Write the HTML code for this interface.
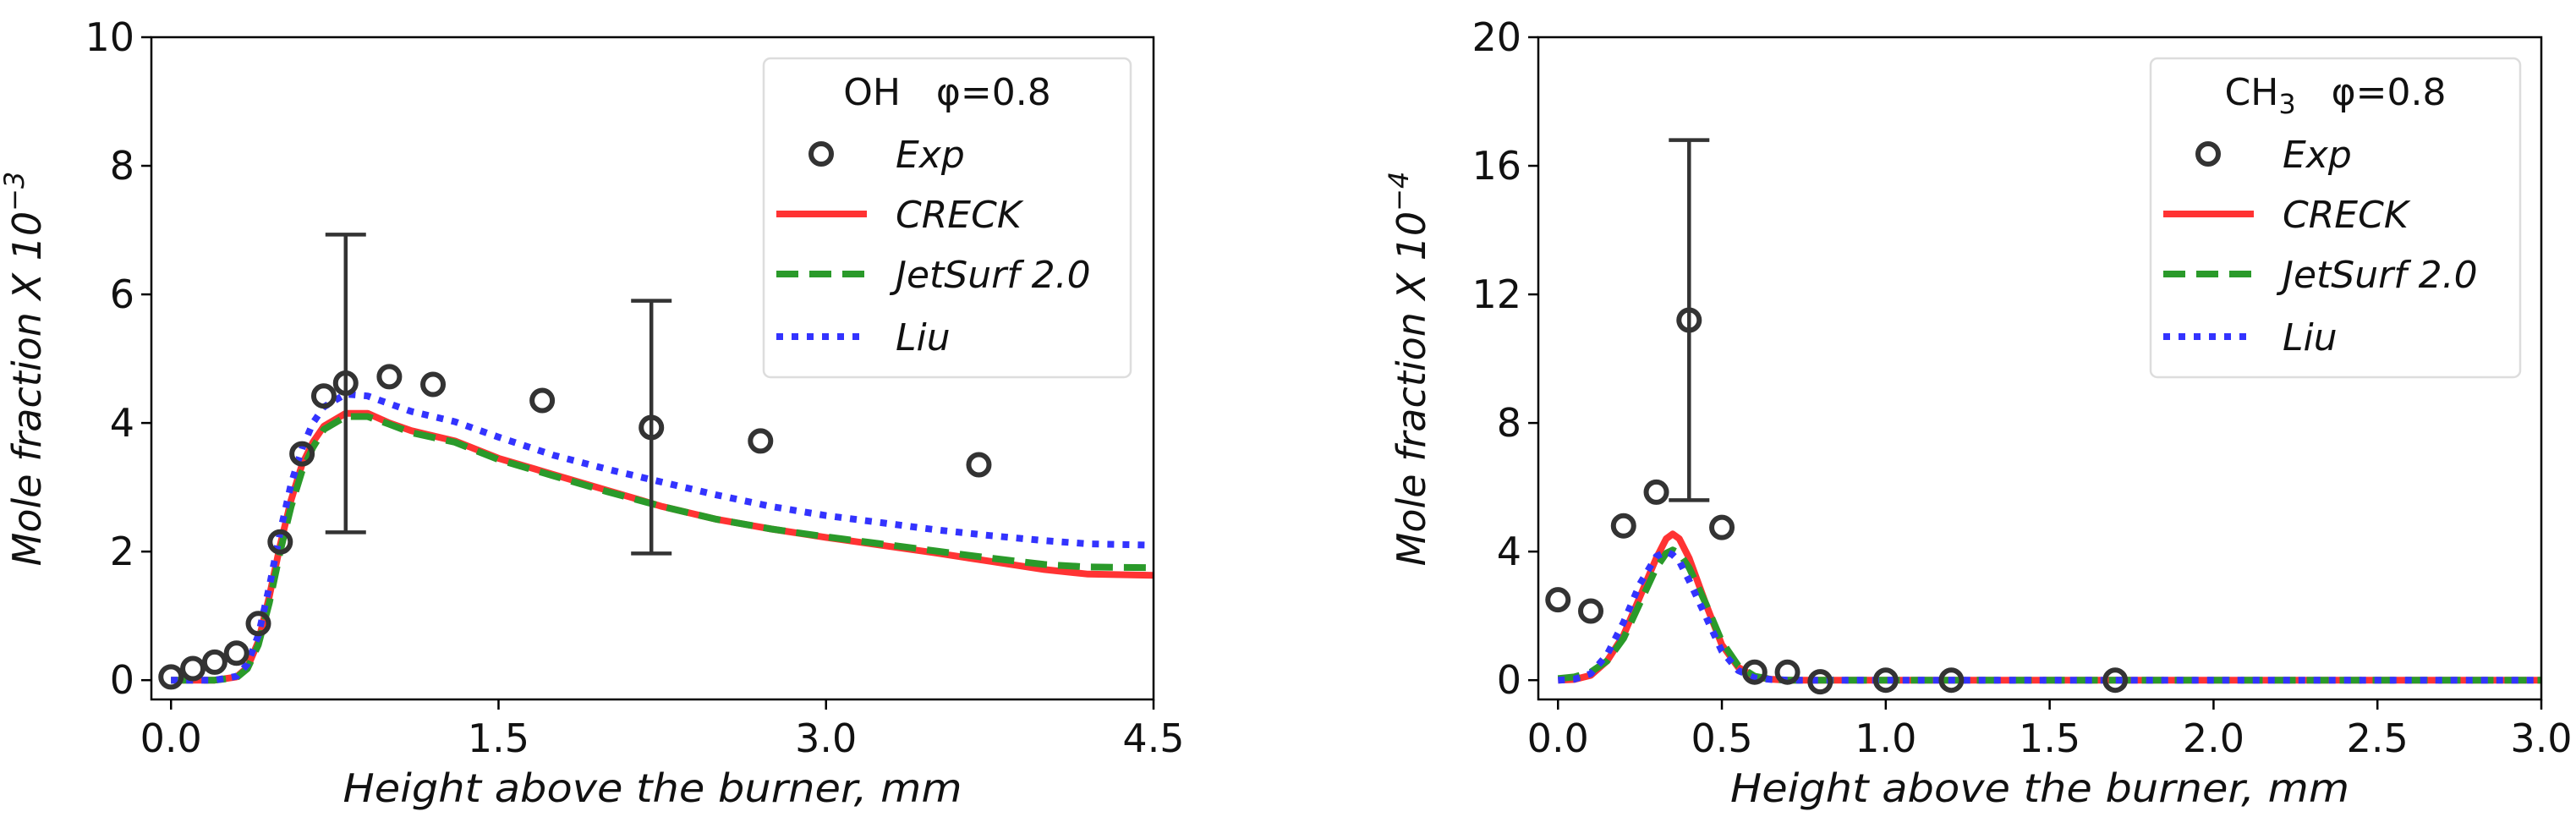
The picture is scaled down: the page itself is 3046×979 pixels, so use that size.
<!DOCTYPE html>
<html><head><meta charset="utf-8"><style>
html,body{margin:0;padding:0;background:#fff;}
svg text{font-family:"DejaVu Sans","Liberation Sans",sans-serif;fill:#111;}
</style></head><body>
<svg id="svg" width="3046" height="974" xmlns="http://www.w3.org/2000/svg"></svg>
<script>
// ---- OH panel data ----
const ohExpX=[0,0.1,0.2,0.3,0.4,0.5,0.6,0.7,0.8,1.0,1.2,1.7,2.2,2.7,3.7];
const ohExpY=[0.05,0.18,0.28,0.42,0.88,2.15,3.52,4.42,4.62,4.72,4.6,4.35,3.93,3.72,3.35];
const ohErrX=[0.8,2.2];
const ohErrLo=[2.3,1.97];
const ohErrHi=[6.93,5.9];
const ohModelX=[0,0.2,0.3,0.35,0.4,0.45,0.5,0.55,0.6,0.65,0.7,0.8,0.9,1.0,1.1,1.3,1.5,1.75,2.0,2.25,2.5,2.75,3.0,3.25,3.5,3.75,4.0,4.2,4.5];
const ohCreck=[0,0,0.05,0.2,0.6,1.3,2.1,2.8,3.35,3.7,3.95,4.15,4.15,4.0,3.88,3.72,3.45,3.2,2.95,2.7,2.5,2.35,2.22,2.1,1.98,1.85,1.72,1.65,1.63];
const ohJet=[0,0,0.04,0.18,0.55,1.2,2.0,2.7,3.25,3.62,3.9,4.1,4.1,3.98,3.85,3.7,3.43,3.18,2.93,2.7,2.5,2.35,2.23,2.12,2.01,1.9,1.8,1.76,1.75];
const ohLiu=[0,0,0.06,0.25,0.7,1.45,2.3,3.05,3.6,4.0,4.25,4.45,4.42,4.3,4.18,4.02,3.78,3.5,3.28,3.08,2.88,2.7,2.56,2.45,2.34,2.25,2.17,2.12,2.1];
// ---- CH3 panel data ----
const chExpX=[0,0.1,0.2,0.3,0.4,0.5,0.6,0.7,0.8,1.0,1.2,1.7];
const chExpY=[2.5,2.15,4.8,5.85,11.2,4.75,0.25,0.25,-0.05,0,0,0];
const chErrX=[0.4];
const chErrLo=[5.6];
const chErrHi=[16.8];
const chModelX=[0,0.05,0.1,0.15,0.2,0.25,0.3,0.33,0.35,0.37,0.4,0.45,0.5,0.55,0.6,0.65,0.7,0.8,1.0,1.5,2.0,2.5,3.0];
const chCreck=[0,0.02,0.15,0.6,1.4,2.6,3.8,4.4,4.55,4.4,3.8,2.4,1.1,0.4,0.1,0.03,0,0,0,0,0,0,0];
const chJet=[0.05,0.1,0.25,0.6,1.3,2.4,3.5,3.95,4.05,3.95,3.5,2.4,1.2,0.45,0.12,0.03,0,0,0,0,0,0,0];
const chLiu=[0,0.03,0.2,0.8,1.8,3.0,3.85,4.0,3.9,3.7,3.1,2.0,0.9,0.3,0.07,0.02,0,0,0,0,0,0,0];
const ohXTicks=[0,1.5,3.0,4.5];
const ohYTicks=[0,2,4,6,8,10];
const chXTicks=[0,0.5,1.0,1.5,2.0,2.5,3.0];
const chYTicks=[0,4,8,12,16,20];

const svg=document.getElementById('svg');
const NS='http://www.w3.org/2000/svg';
function el(tag,attrs,parent){const e=document.createElementNS(NS,tag);for(const k in attrs)e.setAttribute(k,attrs[k]);(parent||svg).appendChild(e);return e;}

function panel(p){
  const g=el('g',{});
  
  
  const sx=v=>p.L+(v-p.xmin)/(p.xmax-p.xmin)*(p.R-p.L);
  const sy=v=>p.B-(v-p.ymin)/(p.ymax-p.ymin)*(p.B-p.T);
  const clip='clip'+p.name;
  const cp=el('clipPath',{id:clip},g);el('rect',{x:p.L,y:p.T,width:p.R-p.L,height:p.B-p.T},cp);
  const pts=(xs,ys)=>xs.map((x,i)=>sx(x).toFixed(1)+','+sy(ys[i]).toFixed(1)).join(' ');
  const series=[[p.creck,'#ff3333','none','creck-line'],[p.jet,'#2a9a2a','26,13','jetsurf-line'],[p.liu,'#3333ff','8,10','liu-line']];
  const lg=el('g',{'clip-path':'url(#'+clip+')'},g);
  series.forEach(s=>{
    const l=el('polyline',{points:pts(p.mx,s[0]),fill:'none',stroke:s[1],'stroke-width':8,'stroke-dasharray':s[2],'stroke-linejoin':'round'},lg);
    
    
  });
  p.errX.forEach((x,i)=>{
    const e=el('g',{stroke:'#333','stroke-width':4.5},g);
    
    
    el('line',{x1:sx(x),x2:sx(x),y1:sy(p.errLo[i]),y2:sy(p.errHi[i])},e);
    el('line',{x1:sx(x)-24,x2:sx(x)+24,y1:sy(p.errLo[i]),y2:sy(p.errLo[i])},e);
    el('line',{x1:sx(x)-24,x2:sx(x)+24,y1:sy(p.errHi[i]),y2:sy(p.errHi[i])},e);
  });
  p.ex.forEach((x,i)=>{
    const c=el('circle',{cx:sx(x),cy:sy(p.ey[i]),r:12,fill:'none',stroke:'#333','stroke-width':6},g);
    
    
  });
  const fr=el('rect',{x:p.L,y:p.T,width:p.R-p.L,height:p.B-p.T,fill:'none',stroke:'#000','stroke-width':2.5},g);
  
  
  p.xt.forEach(t=>{
    el('line',{x1:sx(t),x2:sx(t),y1:p.B,y2:p.B+12,stroke:'#000','stroke-width':2.5},g);
    const tx=el('text',{x:sx(t),y:p.B+62,'text-anchor':'middle','font-size':46},g);tx.textContent=t.toFixed(1);
    
    
  });
  p.yt.forEach(t=>{
    el('line',{x1:p.L-12,x2:p.L,y1:sy(t),y2:sy(t),stroke:'#000','stroke-width':2.5},g);
    const tx=el('text',{x:p.L-20,y:sy(t)+16,'text-anchor':'end','font-size':46},g);tx.textContent=t;
    
    
  });
  const xl=el('text',{x:(p.L+p.R)/2,y:948,'text-anchor':'middle','font-size':46,'font-style':'italic',textLength:732,lengthAdjust:'spacingAndGlyphs'},g);
  xl.textContent='Height above the burner, mm';
  
  
  const yl=el('text',{x:0,y:0,'text-anchor':'middle','font-size':46,'font-style':'italic',transform:'translate('+p.ylx+',436) rotate(-90)'},g);
  yl.innerHTML='Mole fraction X 10<tspan dy="-20" font-size="32">\u2212'+p.exp+'</tspan>';
  
  
  const lgd=el('g',{},g);
  
  
  el('rect',{x:p.lgx,y:69,width:p.lgw,height:377,rx:8,fill:'#fff',stroke:'#ddd','stroke-width':2.5},lgd);
  const tt=el('text',{x:p.lgx+p.lgw/2,y:124,'text-anchor':'middle','font-size':44},lgd);
  tt.innerHTML=p.title;
  const hx=p.lgx+15, tx=p.lgx+156;
  el('circle',{cx:hx+53,cy:182,r:12,fill:'none',stroke:'#333','stroke-width':6},lgd);
  const rows=[['Exp',182],['CRECK',253],['JetSurf 2.0',324],['Liu',398]];
  series.forEach((s,i)=>{el('line',{x1:hx,x2:hx+107,y1:rows[i+1][1],y2:rows[i+1][1],stroke:s[1],'stroke-width':8,'stroke-dasharray':s[2]},lgd);});
  rows.forEach(r=>{const t=el('text',{x:tx,y:r[1]+16,'font-size':44,'font-style':'italic'},lgd);t.textContent=r[0];
    
    });
}
panel({name:'oh-panel',L:179,R:1364,T:44,B:827,xmin:-0.09,xmax:4.5,ymin:-0.3,ymax:10,
  ex:ohExpX,ey:ohExpY,errX:ohErrX,errLo:ohErrLo,errHi:ohErrHi,mx:ohModelX,creck:ohCreck,jet:ohJet,liu:ohLiu,
  xt:ohXTicks,yt:ohYTicks,ylx:48,exp:'3',lgx:903,lgw:434,title:'OH&#160;&#160;&#160;φ=0.8'});
panel({name:'ch3-panel',L:1819,R:3005,T:44,B:827,xmin:-0.06,xmax:3.0,ymin:-0.6,ymax:20,
  ex:chExpX,ey:chExpY,errX:chErrX,errLo:chErrLo,errHi:chErrHi,mx:chModelX,creck:chCreck,jet:chJet,liu:chLiu,
  xt:chXTicks,yt:chYTicks,ylx:1685,exp:'4',lgx:2543,lgw:437,title:'CH<tspan dy="10" font-size="32">3</tspan><tspan dy="-10">&#160;&#160;&#160;φ=0.8</tspan>'});
</script>
</body></html>
